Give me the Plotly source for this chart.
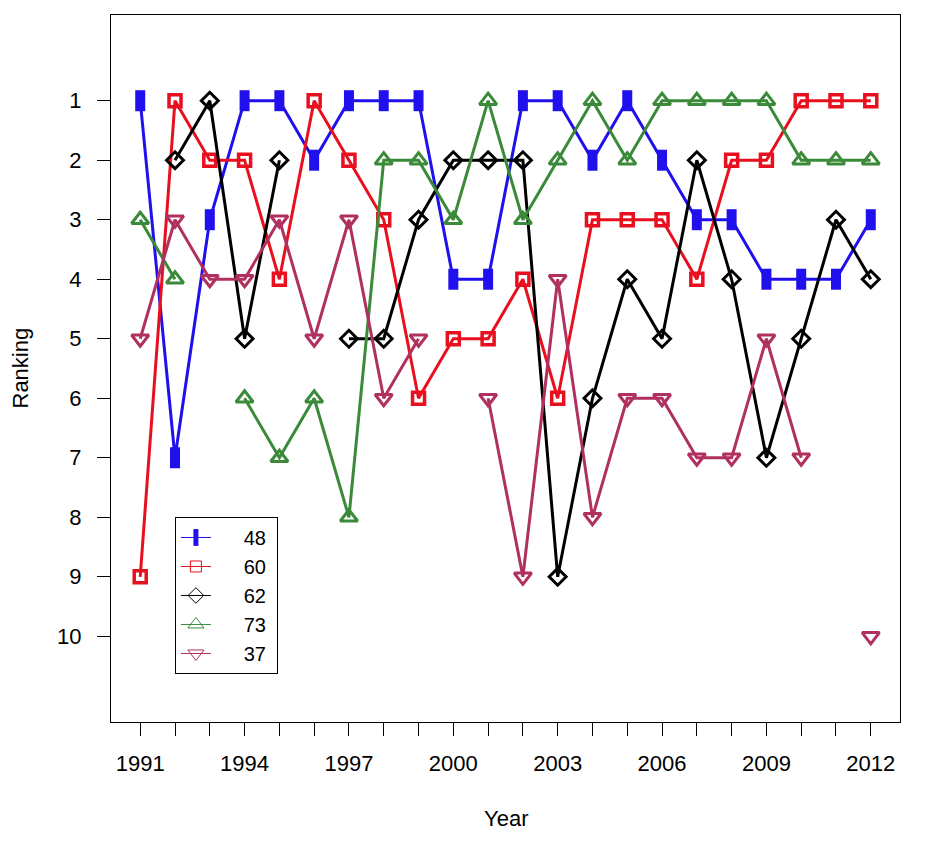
import plotly.graph_objects as go

years = list(range(1991, 2013))
series_names = ["48", "60", "62", "73", "37"]
rank_48 = [1, 7, 3, 1, 1, 2, 1, 1, 1, 4, 4, 1, 1, 2, 1, 2, 3, 3, 4, 4, 4, 3]
rank_60 = [9, 1, 2, 2, 4, 1, 2, 3, 6, 5, 5, 4, 6, 3, 3, 3, 4, 2, 2, 1, 1, 1]
rank_62 = [None, 2, 1, 5, 2, None, 5, 5, 3, 2, 2, 2, 9, 6, 4, 5, 2, 4, 7, 5, 3, 4]
rank_73 = [3, 4, None, 6, 7, 6, 8, 2, 2, 3, 1, 3, 2, 1, 2, 1, 1, 1, 1, 2, 2, 2]
rank_37 = [5, 3, 4, 4, 3, 5, 3, 6, 5, None, 6, 9, 4, 8, 6, 6, 7, 7, 5, 7, None, 10]
y_ticks = list(range(1, 11))
x_ticks = years
x_labels = [str(y) if (y - 1991) % 3 == 0 else "" for y in years]

all_ranks = [rank_48, rank_60, rank_62, rank_73, rank_37]
colors = ["#2010ee", "#e8101e", "#000000", "#3a8a3a", "#b03060"]
symbols = ["line-ns", "square-open", "diamond-open", "triangle-up-open", "triangle-down-open"]
sizes = [15, 12, 13, 15, 15]
mlw = [10, 3.5, 3, 3, 3]
leg_symbols = ["line-ns", "square-open", "diamond-open", "triangle-up-open", "triangle-down-open"]
leg_sizes = [12, 11, 12, 14, 14]
leg_mlw = [5, 1, 1, 1, 1]

fig = go.Figure()
for name, vals, c, s, sz, lw in zip(series_names, all_ranks, colors, symbols, sizes, mlw):
    fig.add_trace(go.Scatter(
        x=years, y=vals, mode="lines+markers", name=name, showlegend=False,
        line=dict(color=c, width=3),
        marker=dict(symbol=s, size=sz, color=c, line=dict(color=c, width=lw)),
    ))
for name, c, s, sz, lw in zip(series_names, colors, leg_symbols, leg_sizes, leg_mlw):
    fig.add_trace(go.Scatter(
        x=[None], y=[None], mode="lines+markers",
        name="\u00a0\u00a0\u00a0\u00a0\u00a0" + name + "\u00a0",
        showlegend=True,
        line=dict(color=c, width=1),
        marker=dict(symbol=s, size=sz, color=c, line=dict(color=c, width=lw)),
    ))

font = dict(family="Liberation Sans, Arial, sans-serif", size=22, color="black")
fig.update_layout(
    width=948, height=856,
    margin=dict(l=103, r=56, t=7, b=142),
    paper_bgcolor="white", plot_bgcolor="white",
    font=font,
    showlegend=True,
    legend=dict(x=0.081, y=0.29, xanchor="left", yanchor="top",
                bordercolor="black", borderwidth=1, bgcolor="white",
                font=dict(family="Liberation Sans, Arial, sans-serif", size=20, color="black"),
                tracegroupgap=0, itemwidth=30),
    xaxis=dict(range=[1990.16, 2012.84], tickmode="array", tickvals=x_ticks, ticktext=x_labels,
               showgrid=False, zeroline=False, showline=True, mirror=True, linecolor="black", linewidth=1,
               ticks="outside", ticklen=13, tickwidth=1, tickcolor="black", ticklabelstandoff=9),
    yaxis=dict(range=[11.44, -0.44], tickmode="array", tickvals=y_ticks, ticktext=[str(v) for v in y_ticks],
               showgrid=False, zeroline=False, showline=True, mirror=True, linecolor="black", linewidth=1,
               ticks="outside", ticklen=13, tickwidth=1, tickcolor="black", ticklabelstandoff=11),
    annotations=[
        dict(text="Year", xref="paper", yref="paper", x=0.5, y=0, yshift=-96,
             showarrow=False, xanchor="center", yanchor="middle", font=font),
        dict(text="Ranking", xref="paper", yref="paper", x=0, y=0.5, xshift=-91,
             showarrow=False, xanchor="center", yanchor="middle", textangle=-90, font=font),
    ],
)
fig.write_html("out.html")
